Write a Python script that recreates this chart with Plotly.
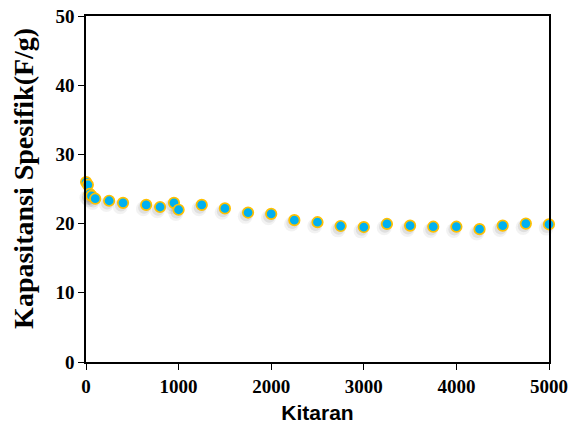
import plotly.graph_objects as go

cycles = [1, 20, 40, 60, 100, 250, 400, 650, 800, 950, 1000, 1250, 1500, 1750, 2000,
          2250, 2500, 2750, 3000, 3250, 3500, 3750, 4000, 4250, 4500, 4750, 5000]
capacitance = [26.0, 25.6, 24.3, 24.0, 23.6, 23.3, 23.0, 22.7, 22.4, 23.0, 22.0, 22.7, 22.2,
               21.6, 21.4, 20.5, 20.2, 19.65, 19.5, 19.95, 19.7, 19.55, 19.55, 19.2, 19.7,
               20.0, 19.9]

x_ticks = [0, 1000, 2000, 3000, 4000, 5000]
y_ticks = [0, 10, 20, 30, 40, 50]

fig = go.Figure()
# soft drop shadow
for dx, dy, a, s in [(-30, -0.55, 0.05, 15), (-22, -0.4, 0.08, 12)]:
    fig.add_trace(go.Scatter(
        x=[c + dx for c in cycles], y=[v + dy for v in capacitance], mode="markers",
        marker=dict(size=s, color=f"rgba(0,0,0,{a})", line=dict(width=0)),
        hoverinfo="skip", showlegend=False, cliponaxis=False))
fig.add_trace(go.Scatter(
    x=cycles, y=capacitance, mode="markers",
    marker=dict(size=10.5, color="#00B0F0", line=dict(color="#FFC000", width=1.7)),
    showlegend=False, cliponaxis=False))

fig.update_layout(
    width=571, height=428,
    margin=dict(l=86, r=22, t=16, b=66),
    paper_bgcolor="white", plot_bgcolor="white",
    xaxis=dict(range=[0, 5000], tickvals=x_ticks, showgrid=False, zeroline=False,
               automargin=False,
               showline=True, linecolor="black", linewidth=1.5, mirror=True,
               ticks="outside", ticklen=6, tickcolor="black", tickwidth=1.2,
               tickfont=dict(family="Liberation Serif", size=19, color="black", weight="bold"),
               title=dict(text="<b>Kitaran</b>", standoff=10,
                          font=dict(family="Liberation Sans", size=21, color="black"))),
    yaxis=dict(range=[0, 50], tickvals=y_ticks, showgrid=False, zeroline=False,
               automargin=False,
               showline=True, linecolor="black", linewidth=1.5, mirror=True,
               ticks="outside", ticklen=6, tickcolor="black", tickwidth=1.2,
               tickfont=dict(family="Liberation Serif", size=19, color="black", weight="bold")),
    annotations=[dict(text="<b>Kapasitansi Spesifik(F/g)</b>", xref="paper", yref="paper",
                      x=-0.134, y=0.532, xanchor="center", yanchor="middle",
                      textangle=-90, showarrow=False,
                      font=dict(family="Liberation Serif", size=28, color="black"))],
)

fig.write_html("out.html")
